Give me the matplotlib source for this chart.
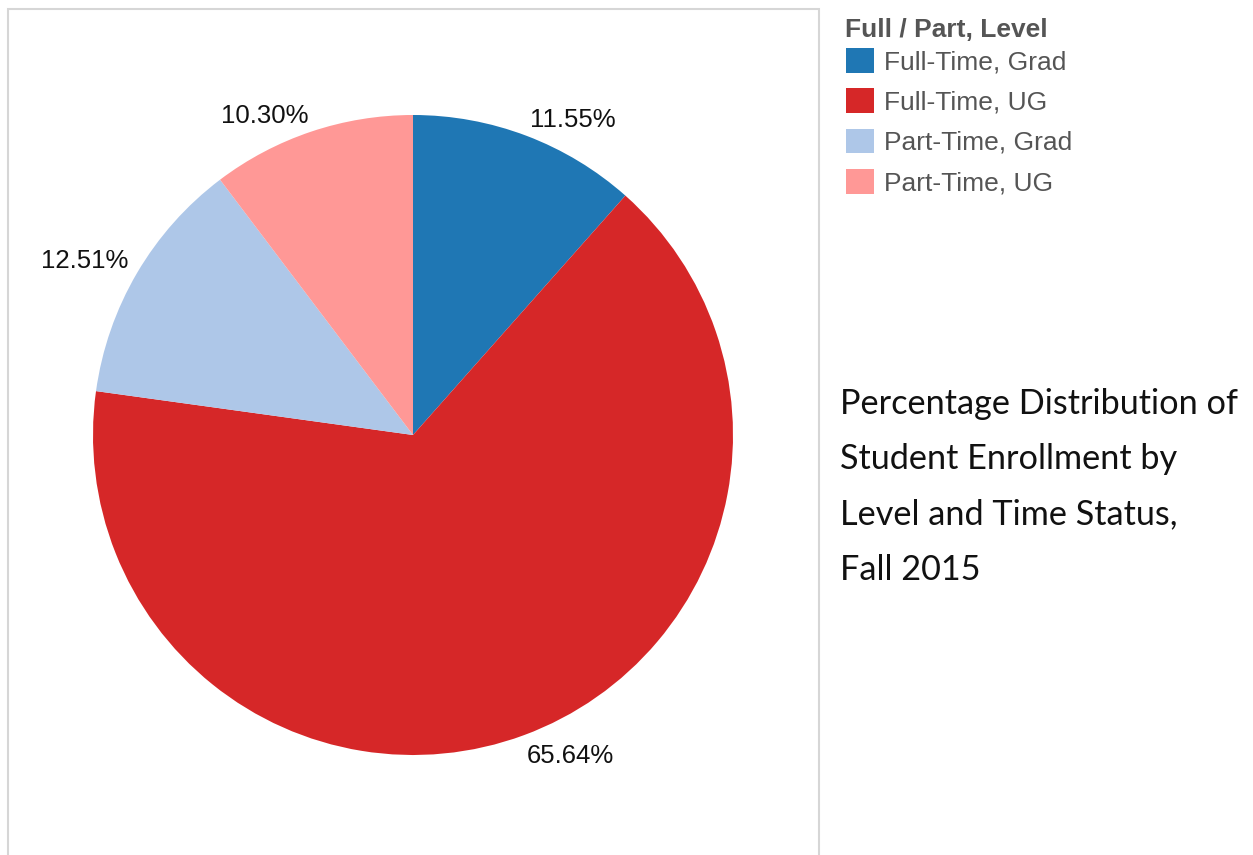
import numpy as np
import matplotlib.pyplot as plt
from matplotlib.patches import Rectangle

# data
labels = ["Full-Time, Grad", "Full-Time, UG", "Part-Time, Grad", "Part-Time, UG"]
shares = [11.55, 65.64, 12.51, 10.30]
colors = ["#1f77b4", "#d62728", "#aec7e8", "#ff9896"]

W, H = 1253, 855
px = 1 / 100

fig = plt.figure(figsize=(W * px, H * px), dpi=100)

# light frame round the pie pane (open at the bottom)
frame = Rectangle((8 / W, -0.05), (819 - 8) / W, 1.05 - 9 / H, transform=fig.transFigure,
                  facecolor="none", edgecolor="#d6d6d6", linewidth=1.5, clip_on=False)
fig.patches.append(frame)

ax = fig.add_axes([93 / W, 100 / H, 640 / W, 640 / H])
wedges, _ = ax.pie(shares, colors=colors, startangle=90, counterclock=False,
                   radius=1.0, wedgeprops=dict(linewidth=0))
ax.set_xlim(-1, 1)
ax.set_ylim(-1, 1)
ax.set_aspect("equal")

# percentage labels: corner of the label sits just outside the slice middle
for w, s in zip(wedges, shares):
    ang = np.deg2rad((w.theta1 + w.theta2) / 2)
    x, y = 1.03 * np.cos(ang), 1.03 * np.sin(ang)
    ha = "left" if x > 0 else "right"
    va = "baseline" if y > 0 else "top"
    ax.text(x, y, f"{s:.2f}%", ha=ha, va=va, fontsize=18.5,
            family="Liberation Sans", color="#111111")

# legend title drawn on its own so its gap to the entries can be set
fig.text(845 / W, 1 - 30 / H, "Full / Part, Level", ha="left", va="center",
         fontsize=19, weight="bold", family="Liberation Sans", color="#555555")
leg = fig.legend(wedges, labels, loc="upper left",
                 bbox_to_anchor=(846 / W, 1 - 48 / H), frameon=False,
                 prop=dict(family="Liberation Sans", size=19),
                 handlelength=1.06, handleheight=1.06,
                 labelspacing=0.53, handletextpad=0.38, borderpad=0, borderaxespad=0)
for t in leg.get_texts():
    t.set_color("#555555")

fig.text(840 / W, 1 - 487 / H,
         "Percentage Distribution of\nStudent Enrollment by\nLevel and Time Status,\nFall 2015",
         ha="left", va="center", fontsize=24.7, family="Lato", color="#111111",
         linespacing=1.89)

fig.savefig("out.png", dpi=100)
